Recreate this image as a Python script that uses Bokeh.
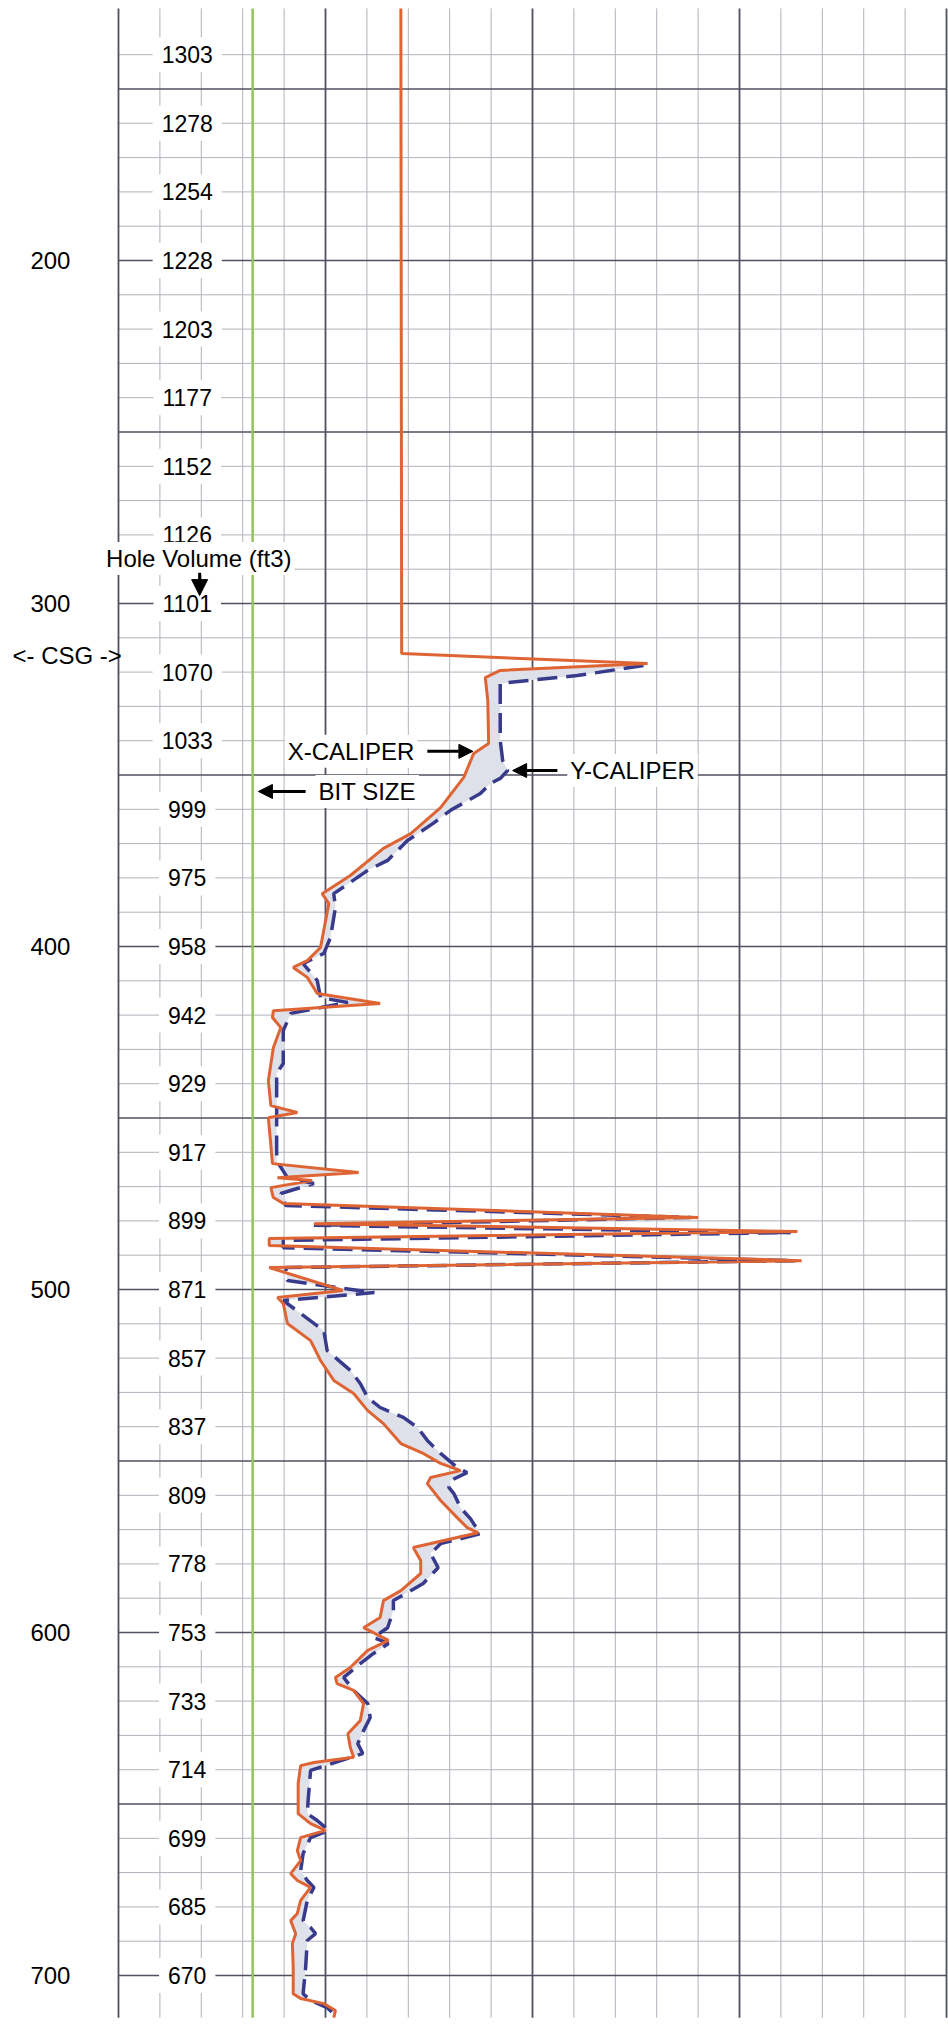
import numpy as np
from bokeh.plotting import figure
from bokeh.models import Range1d, Label, Arrow, NormalHead
from bokeh.core.properties import value
from bokeh.embed import file_html
from bokeh.resources import INLINE

FONT = "Liberation Sans"

# ---------------- data ----------------
# X-caliper (solid), depth in ft, caliper in inches
x_cal_depth = [126.5, 314.6, 317.5, 319.5, 321.6, 328.3, 340.8, 343.7, 350.7, 359.5,
               367.1, 371.4, 379.3, 384.6, 387.5, 400.3, 404.1, 406.1, 409.0, 413.7,
               416.6, 418.7, 420.7, 423.6, 429.5, 439.1, 446.4, 448.4, 449.9, 463.3,
               465.9, 467.4, 468.2, 470.3, 473.2, 474.9, 479.0, 480.8, 483.1, 485.1,
               487.2, 491.6, 493.6, 500.3, 502.3, 504.1, 509.9, 514.9, 520.7, 526.5,
               530.3, 535.3, 539.1, 544.9, 547.8, 550.7, 552.8, 554.8, 556.6, 561.5,
               566.5, 569.4, 570.9, 575.2, 579.0, 582.8, 587.8, 590.7, 595.6, 598.6,
               602.3, 605.2, 610.2, 613.1, 614.9, 616.9, 620.7, 625.7, 629.5, 633.5,
               636.4, 637.9, 638.8, 644.0, 652.8, 655.7, 657.7, 659.8, 663.6, 666.5,
               670.3, 672.3, 674.3, 678.1, 681.9, 684.0, 687.8, 690.7, 697.7, 705.3,
               706.7, 708.2, 710.2, 712.3]
x_cal_in = [9.41, 9.42, 12.39, 10.61, 10.43, 10.46, 10.47, 10.29, 10.17, 9.89,
            9.53, 9.20, 8.80, 8.46, 8.54, 8.44, 8.28, 8.11, 8.28, 8.40,
            9.16, 7.87, 7.86, 7.96, 7.87, 7.81, 7.84, 8.16, 7.81, 7.86,
            8.90, 7.92, 8.34, 7.84, 7.87, 7.99, 13.00, 8.36, 14.20, 7.82,
            7.82, 14.25, 7.82, 8.71, 7.92, 7.99, 8.04, 8.32, 8.44, 8.60,
            8.84, 9.01, 9.20, 9.41, 9.68, 9.89, 10.13, 9.77, 9.73, 9.89,
            10.09, 10.21, 10.34, 9.56, 9.65, 9.65, 9.41, 9.20, 9.16, 8.96,
            9.26, 9.01, 8.80, 8.62, 8.64, 8.84, 8.96, 8.92, 8.77, 8.80,
            8.84, 8.36, 8.20, 8.17, 8.17, 8.32, 8.50, 8.20, 8.16, 8.20,
            8.08, 8.16, 8.32, 8.20, 8.16, 8.08, 8.14, 8.10, 8.11, 8.11,
            8.20, 8.48, 8.62, 8.60]

# Y-caliper (dashed)
y_cal_depth = [318.1, 321.0, 323.3, 339.9, 345.8, 348.7, 351.0, 352.5, 355.4, 360.3,
               364.1, 369.1, 374.9, 377.8, 384.6, 388.6, 397.4, 402.0, 405.0, 409.9,
               414.9, 416.3, 419.5, 424.5, 434.1, 437.0, 462.4, 467.4, 469.1, 472.0,
               475.5, 479.0, 481.3, 483.4, 485.7, 487.8, 491.6, 493.6, 497.4, 500.9,
               503.2, 507.0, 512.0, 517.8, 523.6, 527.4, 531.5, 534.4, 537.3, 540.2,
               544.0, 547.8, 551.9, 553.4, 555.7, 557.7, 559.5, 563.6, 566.8, 571.2,
               574.1, 577.0, 581.1, 585.7, 590.7, 593.6, 598.6, 601.5, 603.2, 606.1,
               609.1, 613.1, 616.9, 620.7, 624.8, 628.6, 632.4, 635.3, 640.2, 649.0,
               652.8, 654.8, 657.7, 659.8, 664.4, 669.4, 672.3, 674.3, 678.1, 684.0,
               686.0, 687.8, 689.8, 697.7, 705.3, 707.3, 709.4, 711.1]
y_cal_in = [12.34, 11.54, 10.61, 10.61, 10.64, 10.70, 10.61, 10.49, 10.37, 10.01,
            9.80, 9.49, 9.25, 9.01, 8.60, 8.62, 8.56, 8.48, 8.23, 8.40,
            8.44, 8.77, 8.08, 7.99, 7.99, 7.91, 7.91, 8.04, 8.36, 7.96,
            8.02, 12.91, 8.36, 14.12, 7.99, 7.99, 14.18, 8.02, 8.04, 9.09,
            7.99, 8.20, 8.48, 8.52, 8.80, 8.92, 9.01, 9.16, 9.44, 9.61,
            9.73, 9.89, 10.09, 10.21, 10.01, 9.99, 10.05, 10.13, 10.25, 10.37,
            9.89, 9.77, 9.86, 9.68, 9.32, 9.32, 9.25, 9.08, 9.26, 9.08,
            8.92, 8.72, 8.84, 9.01, 9.04, 8.96, 8.89, 8.95, 8.32, 8.29,
            8.28, 8.40, 8.54, 8.32, 8.23, 8.20, 8.28, 8.36, 8.28, 8.23,
            8.32, 8.38, 8.28, 8.26, 8.23, 8.32, 8.52, 8.60]

bit_size = 7.62

vol_depth = list(range(140, 701, 20))
vol_labels = ["1303", "1278", "1254", "1228", "1203", "1177", "1152", "1126", "1101",
              "1070", "1033", "999", "975", "958", "942", "929", "917", "899", "871",
              "857", "837", "809", "778", "753", "733", "714", "699", "685", "670"]

depth_ticks = [200, 300, 400, 500, 600, 700]
depth_tick_labels = ["200", "300", "400", "500", "600", "700"]

# chart track limits
TRACK_LEFT, TRACK_RIGHT = 6.0, 16.0
TRACK_TOP, TRACK_BOTTOM = 126.5, 712.3

# ---------------- figure ----------------
p = figure(width=948, height=2028, output_backend="svg", toolbar_location=None,
           x_range=Range1d(4.575, 16.024), y_range=Range1d(715.45, 124.2),
           x_axis_location=None, y_axis_location=None,
           min_border_left=0, min_border_right=0, min_border_top=0, min_border_bottom=0)
p.outline_line_color = None
p.background_fill_color = "white"
p.border_fill_color = "white"
p.grid.visible = False

MAJOR_C, MINOR_C = "#4f5160", "#b0b2bc"

# vertical grid lines (0.5 in), heavy every 2.5 in
xv = [TRACK_LEFT + 0.5 * i for i in range(21)]
xv_major = [v for v in xv if abs(((v - TRACK_LEFT) / 2.5) - round((v - TRACK_LEFT) / 2.5)) < 1e-9]
xv_minor = [v for v in xv if v not in xv_major]
# horizontal grid lines (10 ft), heavy every 50 ft
yh = list(range(140, 701, 10))
yh_major = [d for d in yh if d % 50 == 0]
yh_minor = [d for d in yh if d % 50 != 0]

p.segment(x0=xv_minor, x1=xv_minor, y0=[TRACK_TOP] * len(xv_minor), y1=[TRACK_BOTTOM] * len(xv_minor),
          line_color=MINOR_C, line_width=1)
p.segment(x0=[TRACK_LEFT] * len(yh_minor), x1=[TRACK_RIGHT] * len(yh_minor), y0=yh_minor, y1=yh_minor,
          line_color=MINOR_C, line_width=1)
p.segment(x0=[TRACK_LEFT] * len(yh_major), x1=[TRACK_RIGHT] * len(yh_major), y0=yh_major, y1=yh_major,
          line_color=MAJOR_C, line_width=1.6)
p.segment(x0=xv_major, x1=xv_major, y0=[TRACK_TOP] * len(xv_major), y1=[TRACK_BOTTOM] * len(xv_major),
          line_color=MAJOR_C, line_width=1.8)

# bit size
p.line([bit_size, bit_size], [TRACK_TOP, TRACK_BOTTOM], line_color="#94c35a", line_width=2.5)

# fill between calipers
fill_x = x_cal_in[2:] + y_cal_in[::-1]
fill_y = x_cal_depth[2:] + y_cal_depth[::-1]
p.patch(fill_x, fill_y, fill_color="#dfe1ea", fill_alpha=1.0, line_color=None)

RED = "#df6434"
BLUE = "#383a8c"
p.line(y_cal_in, y_cal_depth, line_color=BLUE, line_width=3.5, line_dash="20 9")
p.line(x_cal_in, x_cal_depth, line_color=RED, line_width=3)

# depth labels (left of track)
p.text(x=[5.42] * len(depth_ticks), y=depth_ticks, text=depth_tick_labels,
       text_font=value(FONT), text_font_size=value("24px"), text_color="black",
       text_align="right", text_baseline="middle")

# hole volume labels
vol_x = [6.83] * len(vol_depth)
p.text(x=vol_x, y=vol_depth, text=vol_labels, text_font=value(FONT),
       text_font_size=value("23px"), text_color="black",
       text_align="center", text_baseline="middle",
       background_fill_color="white", padding=9)

def lab(x, y, t, align="left", bg=True):
    kw = dict(x=x, y=y, text=t, text_align=align, text_baseline="middle",
              text_font=FONT, text_font_size="24px", text_color="black")
    if bg:
        kw.update(background_fill_color="white", padding=3)
    p.add_layout(Label(**kw))

lab(6.97, 286.9, "Hole Volume (ft3)", "center")
lab(4.72, 315.2, "<- CSG ->", "left", bg=False)
lab(9.61, 343.1, "X-CALIPER", "right")
lab(8.38, 354.8, "BIT SIZE", "left")
lab(11.42, 348.7, "Y-CALIPER", "left")

def arrow(x0, y0, x1, y1, size=14):
    p.add_layout(Arrow(end=NormalHead(size=size, fill_color="black", line_color="black"),
                       x_start=x0, y_start=y0, x_end=x1, y_end=y1,
                       line_color="black", line_width=3))

arrow(6.98, 291.0, 6.98, 297.7, 16)
arrow(9.73, 343.1, 10.28, 343.1)
arrow(8.26, 354.8, 7.69, 354.8)
arrow(11.30, 348.7, 10.76, 348.7)

open("out.html", "w").write(file_html(p, INLINE))
